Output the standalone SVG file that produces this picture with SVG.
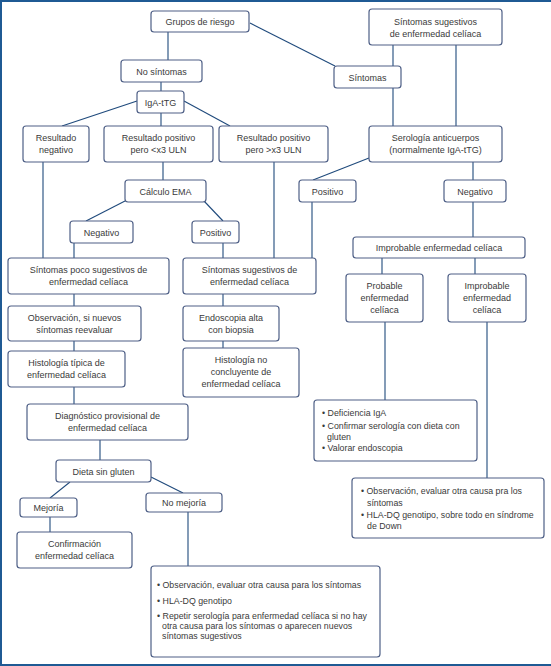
<svg xmlns="http://www.w3.org/2000/svg" width="551" height="666" viewBox="0 0 551 666">
<style>
.b{fill:#fff;stroke:#4e5f86;stroke-width:1.2}
.c line,.c polyline{stroke:#1f4a7c;stroke-width:1.1;fill:none}
text{font-family:"Liberation Sans",Arial,sans-serif;font-size:9px;fill:#3a3a3a;text-anchor:middle}
.l{text-anchor:start;font-size:8.8px}
</style>
<rect x="0" y="0" width="551" height="666" fill="#fff"/>
<g id="frame" stroke="#1f5a94" stroke-width="2" fill="none">
<line x1="1" y1="0" x2="1" y2="666"/>
<line x1="0" y1="1" x2="551" y2="1"/>
<line x1="0" y1="665" x2="551" y2="665"/>
</g>
<g class="c" id="connectors">
<line x1="168" y1="32" x2="168" y2="60"/>
<line x1="250" y1="23" x2="335" y2="66"/>
<line x1="161" y1="82" x2="161" y2="91"/>
<line x1="137" y1="101" x2="62" y2="126"/>
<line x1="161" y1="113" x2="161" y2="126"/>
<line x1="184" y1="101" x2="230" y2="126"/>
<line x1="163" y1="162" x2="163" y2="180"/>
<line x1="43" y1="162" x2="43" y2="258"/>
<line x1="274" y1="162" x2="274" y2="258"/>
<line x1="125" y1="201" x2="86" y2="221"/>
<line x1="204" y1="201" x2="223" y2="221"/>
<line x1="74" y1="243" x2="74" y2="258"/>
<line x1="223" y1="243" x2="223" y2="258"/>
<line x1="74" y1="294" x2="74" y2="306"/>
<line x1="223" y1="294" x2="223" y2="306"/>
<line x1="74" y1="341" x2="74" y2="351"/>
<line x1="223" y1="341" x2="223" y2="348"/>
<line x1="74" y1="387" x2="74" y2="404"/>
<line x1="100" y1="440" x2="100" y2="460"/>
<line x1="70" y1="482" x2="50" y2="498"/>
<line x1="151" y1="477" x2="183" y2="493"/>
<line x1="50" y1="517" x2="50" y2="532"/>
<line x1="188" y1="512" x2="188" y2="566"/>
<line x1="393" y1="45" x2="393" y2="66"/>
<line x1="456" y1="45" x2="456" y2="126"/>
<line x1="393" y1="88" x2="393" y2="126"/>
<line x1="369" y1="158" x2="313" y2="180"/>
<line x1="473" y1="162" x2="473" y2="180"/>
<line x1="312" y1="202" x2="312" y2="258"/>
<line x1="473" y1="202" x2="473" y2="237"/>
<line x1="382" y1="258" x2="382" y2="274"/>
<line x1="475" y1="258" x2="475" y2="274"/>
<line x1="385" y1="322" x2="385" y2="400"/>
<line x1="487" y1="322" x2="487" y2="478"/>
</g>
<g id="n1"><rect class="b" x="151" y="11" width="98" height="21" rx="3"/><text x="200" y="25">Grupos de riesgo</text></g>
<g id="n2"><rect class="b" x="121" y="60" width="81" height="22" rx="3"/><text x="161.5" y="74.5">No síntomas</text></g>
<g id="n3"><rect class="b" x="137" y="91" width="47" height="22" rx="3"/><text x="160.5" y="105.5">IgA-tTG</text></g>
<g id="n4"><rect class="b" x="23" y="126" width="66" height="36" rx="3"/><text x="56" y="141">Resultado</text><text x="56" y="153">negativo</text></g>
<g id="n5"><rect class="b" x="104" y="126" width="109" height="36" rx="3"/><text x="158.5" y="141">Resultado positivo</text><text x="158.5" y="153">pero &lt;x3 ULN</text></g>
<g id="n6"><rect class="b" x="219" y="126" width="109" height="36" rx="3"/><text x="273.5" y="141">Resultado positivo</text><text x="273.5" y="153">pero &gt;x3 ULN</text></g>
<g id="n7"><rect class="b" x="125" y="180" width="81" height="22" rx="3"/><text x="165.5" y="194.5">Cálculo EMA</text></g>
<g id="n8"><rect class="b" x="70" y="221" width="63" height="22" rx="3"/><text x="101.5" y="235.5">Negativo</text></g>
<g id="n9"><rect class="b" x="192" y="221" width="47" height="22" rx="3"/><text x="215.5" y="235.5">Positivo</text></g>
<g id="n10"><rect class="b" x="8" y="258" width="161" height="36" rx="3"/><text x="88.5" y="273">Síntomas poco sugestivos de</text><text x="88.5" y="285">enfermedad celíaca</text></g>
<g id="n11"><rect class="b" x="183" y="258" width="133" height="36" rx="3"/><text x="249.5" y="273">Síntomas sugestivos de</text><text x="249.5" y="285">enfermedad celíaca</text></g>
<g id="n12"><rect class="b" x="8" y="306" width="133" height="35" rx="3"/><text x="74.5" y="321">Observación, si nuevos</text><text x="74.5" y="333">síntomas reevaluar</text></g>
<g id="n13"><rect class="b" x="183" y="306" width="96" height="35" rx="3"/><text x="231" y="321">Endoscopia alta</text><text x="231" y="333">con biopsia</text></g>
<g id="n14"><rect class="b" x="8" y="351" width="117" height="36" rx="3"/><text x="66.5" y="366">Histología típica de</text><text x="66.5" y="378">enfermedad celíaca</text></g>
<g id="n15"><rect class="b" x="183" y="348" width="116" height="49" rx="3"/><text x="241" y="363">Histología no</text><text x="241" y="375">concluyente de</text><text x="241" y="387">enfermedad celíaca</text></g>
<g id="n16"><rect class="b" x="27" y="404" width="161" height="36" rx="3"/><text x="107.5" y="419">Diagnóstico provisional de</text><text x="107.5" y="431">enfermedad celíaca</text></g>
<g id="n17"><rect class="b" x="56" y="460" width="95" height="22" rx="3"/><text x="103.5" y="474.5">Dieta sin gluten</text></g>
<g id="n18"><rect class="b" x="20" y="498" width="57" height="19" rx="3"/><text x="48.5" y="511">Mejoría</text></g>
<g id="n19"><rect class="b" x="146" y="493" width="76" height="19" rx="3"/><text x="184" y="506">No mejoría</text></g>
<g id="n20"><rect class="b" x="17" y="532" width="115" height="36" rx="3"/><text x="74.5" y="547">Confirmación</text><text x="74.5" y="559">enfermedad celíaca</text></g>
<g id="n21"><rect class="b" x="151" y="566" width="229" height="91" rx="3"/>
<text class="l" x="157" y="588">• Observación, evaluar otra causa para los síntomas</text>
<text class="l" x="157" y="604">• HLA-DQ genotipo</text>
<text class="l" x="157" y="619">• Repetir serología para enfermedad celíaca si no hay</text>
<text class="l" x="162" y="629">otra causa  para los síntomas o aparecen nuevos</text>
<text class="l" x="162" y="639">síntomas sugestivos</text></g>
<g id="n22"><rect class="b" x="369" y="9" width="133" height="36" rx="3"/><text x="435.5" y="25">Síntomas sugestivos</text><text x="435.5" y="37">de enfermedad celíaca</text></g>
<g id="n23"><rect class="b" x="334" y="66" width="67" height="22" rx="3"/><text x="367.5" y="80.5">Síntomas</text></g>
<g id="n24"><rect class="b" x="369" y="126" width="133" height="36" rx="3"/><text x="435.5" y="141">Serología anticuerpos</text><text x="435.5" y="153">(normalmente IgA-tTG)</text></g>
<g id="n25"><rect class="b" x="299" y="180" width="57" height="22" rx="3"/><text x="327.5" y="194.5">Positivo</text></g>
<g id="n26"><rect class="b" x="444" y="180" width="62" height="22" rx="3"/><text x="475" y="194.5">Negativo</text></g>
<g id="n27"><rect class="b" x="353" y="237" width="172" height="21" rx="3"/><text x="439" y="250.5">Improbable enfermedad celíaca</text></g>
<g id="n28"><rect class="b" x="346" y="274" width="77" height="48" rx="3"/><text x="384.5" y="289">Probable</text><text x="384.5" y="301">enfermedad</text><text x="384.5" y="313">celíaca</text></g>
<g id="n29"><rect class="b" x="448" y="274" width="78" height="48" rx="3"/><text x="487" y="289">Improbable</text><text x="487" y="301">enfermedad</text><text x="487" y="313">celíaca</text></g>
<g id="n30"><rect class="b" x="314" y="400" width="163" height="61" rx="3"/>
<text class="l" x="322" y="416">• Deficiencia IgA</text>
<text class="l" x="322" y="429">• Confirmar serología con dieta con</text>
<text class="l" x="327" y="440">gluten</text>
<text class="l" x="322" y="451">• Valorar endoscopia</text></g>
<g id="n31"><rect class="b" x="352" y="478" width="192" height="60" rx="3"/>
<text class="l" x="361" y="494">• Observación, evaluar otra causa pra los</text>
<text class="l" x="367" y="506">síntomas</text>
<text class="l" x="361" y="518">• HLA-DQ genotipo, sobre todo en síndrome</text>
<text class="l" x="367" y="529">de Down</text></g>
</svg>
